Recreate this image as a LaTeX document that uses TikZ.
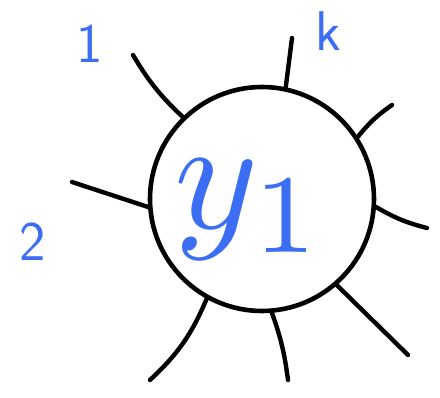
\documentclass[tikz,border=0pt]{standalone}
\usepackage{fontspec}
\usepackage{tikz}
\usetikzlibrary{positioning,calc}
\definecolor{penblue}{HTML}{3B6EF2}
\definecolor{penink}{HTML}{000000}
\tikzset{
  hub/.style={circle, draw=penink, line width=4.6pt, minimum size=224pt, inner sep=0pt},
  spoke/.style={draw=penink, line width=4.4pt, line cap=round},
  tag/.style={text=penblue, font=\sffamily\fontsize{56}{56}\selectfont, inner sep=0pt},
}

\begin{document}
\begin{tikzpicture}[x=1pt, y=-1pt]
    \useasboundingbox (0,0) rectangle (440,398);
    \node[hub] (hub) at (262,199) {};
    \node[text=penblue, inner sep=0pt] (name) at (250,210) {\scalebox{16}{$y_1$}};
    % loose ends of the spokes
    \coordinate (e1) at (133,55);
    \coordinate (e2) at (72,182);
    \coordinate (e3) at (150,380);
    \coordinate (e4) at (288,380);
    \coordinate (e5) at (408,355);
    \coordinate (e6) at (427,228);
    \coordinate (e7) at (392,105);
    \coordinate (e8) at (292,38);
    \draw[spoke] (hub.134) to[bend left=8] (e1);
    \draw[spoke] (hub.184) -- (e2);
    \draw[spoke] (hub.241) to[bend left=12] (e3);
    \draw[spoke] (hub.275) to[bend left=6] (e4);
    \draw[spoke] (hub.311) -- (e5);
    \draw[spoke] (hub.-4) to[bend right=8] (e6);
    \draw[spoke] (hub.33) to[bend left=8] (e7);
    \draw[spoke] (hub.78) -- (e8);
    \node[tag] (one) at (90,44) {1};
    \node[tag] (two) at (33,242) {2};
    \node[tag] (kay) at (328,31) {k};
\end{tikzpicture}
\end{document}
